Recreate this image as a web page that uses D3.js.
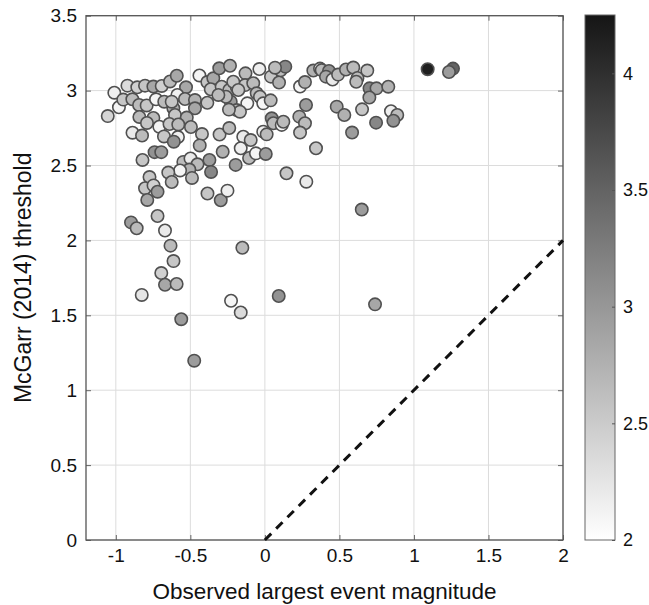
<!DOCTYPE html>
<html><head><meta charset="utf-8">
<script src="https://cdn.jsdelivr.net/npm/d3@7"></script>
<style>
body{margin:0;background:#fff}
text{font-family:"Liberation Sans",Arial,Helvetica,sans-serif;fill:#111}
</style>
</head><body>
<svg id="chart" width="649" height="605"></svg>
<script>
// Observed largest event magnitude
const magnitude = [
-1.054,-1.01,-0.979,-0.922,-0.95,-0.889,-0.856,-0.804,-0.748,-0.692,-0.636,-0.591,-0.529,
-0.844,-0.793,-0.730,-0.675,-0.587,-0.536,-0.469,-0.469,-0.386,-0.614,-0.603,-0.524,
-0.842,-0.748,-0.791,-0.708,-0.640,-0.581,-0.496,-0.888,-0.824,-0.677,-0.583,-0.611,
-0.422,-0.437,-0.304,-0.239,-0.740,-0.695,-0.821,-0.547,-0.499,-0.452,-0.507,-0.569,
-0.372,-0.361,-0.648,-0.625,-0.489,-0.283,-0.196,-0.774,-0.804,-0.747,-0.720,-0.789,
-0.385,-0.296,-0.251,
-0.439,-0.386,-0.346,-0.306,-0.234,-0.363,-0.290,-0.239,-0.189,-0.229,-0.189,-0.261,
-0.312,-0.625,-0.130,-0.037,0.041,0.095,0.106,0.137,0.068,-0.133,-0.078,-0.212,-0.178,
-0.055,-0.033,-0.011,0.039,-0.118,-0.167,-0.145,-0.095,-0.162,-0.106,-0.060,0.006,
0.046,0.057,0.113,0.124,-0.011,0.012,0.145,0.278,0.236,0.269,0.276,0.231,0.269,0.236,
0.343,0.325,0.370,0.381,0.430,0.410,0.454,0.491,0.544,0.593,0.621,0.613,0.687,0.702,
0.749,0.701,0.828,0.482,0.533,0.652,0.585,0.746,0.846,0.888,0.862,1.092,1.262,1.235,
-0.241,
-0.898,-0.860,-0.720,-0.670,-0.633,-0.613,-0.695,-0.670,-0.592,-0.826,-0.561,-0.474,
-0.151,-0.227,-0.162,0.093,0.650,0.739
];
// McGarr (2014) threshold
const threshold = [
2.830,2.986,2.889,3.033,2.940,2.942,3.022,3.033,3.027,3.031,3.061,3.099,3.022,
2.904,2.901,2.942,2.926,2.971,2.944,2.937,2.882,2.919,2.882,2.837,2.820,
2.824,2.817,2.784,2.759,2.777,2.774,2.757,2.719,2.700,2.694,2.690,2.659,
2.710,2.634,2.707,2.750,2.589,2.589,2.537,2.524,2.547,2.508,2.473,2.467,
2.537,2.457,2.453,2.390,2.417,2.592,2.504,2.423,2.348,2.367,2.325,2.270,
2.313,2.268,2.332,
3.101,3.057,3.082,3.149,3.166,3.009,3.026,3.004,3.024,2.926,2.870,2.959,
2.971,2.926,3.115,3.144,3.093,3.054,3.136,3.160,3.153,3.037,3.049,3.059,3.004,
2.982,2.959,2.915,2.935,2.915,2.859,2.692,2.670,2.615,2.550,2.581,2.577,
2.815,2.782,2.771,2.792,2.726,2.708,2.448,2.392,3.027,3.057,2.904,2.826,2.782,2.720,
2.615,3.134,3.147,3.137,3.131,3.093,3.074,3.107,3.141,3.154,3.084,3.059,3.134,3.015,
3.015,2.954,3.026,2.893,2.837,2.875,2.720,2.786,2.862,2.837,2.799,3.143,3.147,3.124,
2.873,
2.120,2.081,2.163,2.066,1.965,1.862,1.782,1.704,1.709,1.636,1.474,1.197,
1.951,1.597,1.519,1.629,2.206,1.573
];
// colour value (colorbar 2 - 4.25)
const colorValue = [
2.4,2.15,2.1,2.35,2.55,2.65,2.45,2.55,2.85,2.45,2.65,2.85,2.85,
2.65,2.55,2.1,2.65,2.15,2.65,2.75,2.85,2.55,2.75,2.55,2.75,
2.65,2.65,2.55,2.1,2.55,2.65,2.65,2.2,2.65,2.55,2.15,3.05,
2.55,2.75,2.55,2.65,3.05,2.95,2.55,2.65,2.2,2.65,2.75,2.1,
2.95,3.15,2.55,2.65,2.65,2.75,2.95,2.55,2.55,2.45,2.95,2.85,
2.55,2.95,2.15,
2.1,2.55,2.85,2.95,2.75,2.55,2.55,2.65,2.65,2.95,2.65,2.65,
2.65,2.55,2.65,2.15,2.55,2.75,2.65,3.15,2.65,2.55,2.65,2.55,2.55,
2.65,2.55,2.1,2.65,2.1,2.55,2.2,2.55,2.15,2.65,2.1,2.95,
3.05,2.65,2.1,2.65,2.15,2.65,2.55,2.2,2.1,2.75,2.95,2.75,2.65,2.55,
2.55,2.75,2.15,2.65,3.05,2.85,2.2,2.65,2.75,2.65,2.65,2.65,2.55,3.15,
2.85,2.85,2.75,2.85,2.75,2.55,2.95,3.15,2.15,2.65,3.05,4.15,3.5,2.95,
2.65,
2.95,2.65,2.55,2.2,2.65,2.55,2.45,2.85,2.65,2.25,2.95,2.95,
2.65,2.1,2.35,3.05,2.95,2.85
];
const xTicks = [-1, -0.5, 0, 0.5, 1, 1.5, 2];
const yTicks = [0, 0.5, 1, 1.5, 2, 2.5, 3, 3.5];
const cbTicks = [2, 2.5, 3, 3.5, 4];
const xDomain = [-1.2, 2];
const yDomain = [0, 3.5];
const cDomain = [2, 4.25];
const refLine = [[0, 0], [2, 2]];

const svg = d3.select("#chart");
const L = 86, R = 563, T = 15.7, B = 540;
const x = d3.scaleLinear().domain(xDomain).range([L, R]);
const y = d3.scaleLinear().domain(yDomain).range([B, T]);
const col = d3.scaleLinear().domain(cDomain).range(["#ffffff", "#151515"]);
const FONT = '"Liberation Sans",Arial,sans-serif';

// grid
svg.append("g").selectAll("line").data(xTicks).join("line")
  .attr("x1", d => x(d)).attr("x2", d => x(d)).attr("y1", T).attr("y2", B)
  .attr("stroke", "#dcdcdc").attr("stroke-width", 1);
svg.append("g").selectAll("line").data(yTicks).join("line")
  .attr("y1", d => y(d)).attr("y2", d => y(d)).attr("x1", L).attr("x2", R)
  .attr("stroke", "#dcdcdc").attr("stroke-width", 1);

// axes
const fmt = d => String(d);
const xAx = svg.append("g").attr("transform", `translate(0,${B})`)
  .call(d3.axisBottom(x).tickValues(xTicks).tickSize(-5).tickPadding(9).tickFormat(fmt));
const xTop = svg.append("g").attr("transform", `translate(0,${T})`)
  .call(d3.axisTop(x).tickValues(xTicks).tickSize(-5).tickFormat(""));
const yAx = svg.append("g").attr("transform", `translate(${L},0)`)
  .call(d3.axisLeft(y).tickValues(yTicks).tickSize(-5).tickPadding(9).tickFormat(fmt));
const yRight = svg.append("g").attr("transform", `translate(${R},0)`)
  .call(d3.axisRight(y).tickValues(yTicks).tickSize(-5).tickFormat(""));
[xAx, xTop, yAx, yRight].forEach(g => {
  g.select(".domain").remove();
  g.selectAll(".tick line").attr("stroke", "#666");
  g.selectAll("text").attr("font-size", 19).style("fill", "#111").attr("font-family", FONT);
});
svg.append("rect").attr("x", L).attr("y", T).attr("width", R - L).attr("height", B - T)
  .attr("fill", "none").attr("stroke", "#555").attr("stroke-width", 1.3);

// reference 1:1 line
svg.append("path").datum(refLine)
  .attr("d", d3.line().x(d => x(d[0])).y(d => y(d[1])))
  .attr("stroke", "#111").attr("stroke-width", 3).attr("stroke-dasharray", "9,7")
  .attr("fill", "none");

// points
const pts = magnitude.map((m, i) => ({m, t: threshold[i], c: colorValue[i]}));
svg.append("g").selectAll("circle").data(pts).join("circle")
  .attr("cx", d => x(d.m)).attr("cy", d => y(d.t)).attr("r", 6.2)
  .attr("fill", d => col(d.c)).attr("stroke", "#505050").attr("stroke-width", 1.6);

// labels
svg.append("text").attr("x", (L + R) / 2).attr("y", 599).attr("text-anchor", "middle")
  .attr("font-size", 22.5).attr("font-family", FONT).text("Observed largest event magnitude");
svg.append("text").attr("transform", `translate(31,${(T + B) / 2}) rotate(-90)`)
  .attr("text-anchor", "middle").attr("font-size", 23).attr("font-family", FONT)
  .text("McGarr (2014) threshold");

// colorbar
const cbL = 585, cbW = 30, cbT = 15, cbB = 540;
const cy = d3.scaleLinear().domain(cDomain).range([cbB, cbT]);
const grad = svg.append("defs").append("linearGradient").attr("id", "cbg")
  .attr("x1", 0).attr("y1", 1).attr("x2", 0).attr("y2", 0);
grad.append("stop").attr("offset", 0).attr("stop-color", col(cDomain[0]));
grad.append("stop").attr("offset", 1).attr("stop-color", col(cDomain[1]));
svg.append("rect").attr("x", cbL).attr("y", cbT).attr("width", cbW).attr("height", cbB - cbT)
  .attr("fill", "url(#cbg)").attr("stroke", "#666").attr("stroke-width", 1);
const cAx = svg.append("g").attr("transform", `translate(${cbL + cbW},0)`)
  .call(d3.axisRight(cy).tickValues(cbTicks).tickSize(-3).tickPadding(8).tickFormat(fmt));
cAx.select(".domain").remove();
cAx.selectAll(".tick line").attr("stroke", "#555");
cAx.selectAll("text").attr("font-size", 18).style("fill", "#111").attr("font-family", FONT);
</script>
</body></html>
